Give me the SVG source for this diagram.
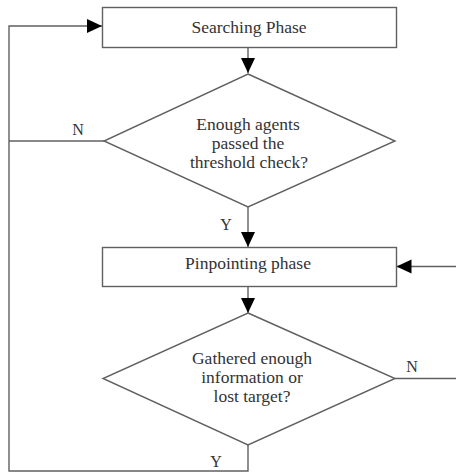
<svg xmlns="http://www.w3.org/2000/svg" width="456" height="472" viewBox="0 0 456 472">
<style>
.shape{fill:#fff;stroke:#606060;stroke-width:1.4}
.conn{fill:none;stroke:#606060;stroke-width:1.4}
text{font-family:'Liberation Serif','Times New Roman','DejaVu Serif',serif;fill:#333;text-anchor:middle}
.t{font-size:17.5px}
.lbl{font-size:16px}
</style>
<defs>
<marker id="arr" markerUnits="userSpaceOnUse" markerWidth="16" markerHeight="16" refX="15" refY="7" orient="auto">
<path d="M0,0 L15,7 L0,14 Z" fill="#000"/>
</marker>
</defs>
<rect width="456" height="472" fill="#fff"/>
<g id="connectors">
<path class="conn" d="M248,47.5 V73" marker-end="url(#arr)"/>
<path class="conn" d="M248,207 V247" marker-end="url(#arr)"/>
<path class="conn" d="M248,286.5 V313" marker-end="url(#arr)"/>
<path class="conn" d="M104,141 H9"/>
<path class="conn" d="M248,445 V471 H9 V26 H102" marker-end="url(#arr)"/>
<path class="conn" d="M395,378.5 H458 V266.5 H396.5" marker-end="url(#arr)"/>
</g>
<g id="searching">
<rect class="shape" x="102.5" y="7.5" width="294" height="40"/>
<text class="t" x="249" y="33" font-family="Liberation Serif, serif">Searching Phase</text>
</g>
<g id="decision1">
<polygon class="shape" points="248,74 395,141 248,207 104,141"/>
<text class="t" x="248" y="130">Enough agents</text>
<text class="t" x="248" y="149">passed the</text>
<text class="t" x="249" y="168">threshold check?</text>
</g>
<g id="pinpointing">
<rect class="shape" x="102.5" y="247.5" width="294" height="39"/>
<text class="t" x="248" y="269">Pinpointing phase</text>
</g>
<g id="decision2">
<polygon class="shape" points="248,313 395,378.5 248,445 103,378.5"/>
<text class="t" x="252" y="364">Gathered enough</text>
<text class="t" x="252" y="383">information or</text>
<text class="t" x="252" y="402">lost target?</text>
</g>
<g id="labels">
<text class="lbl" x="78" y="135">N</text>
<text class="lbl" x="226" y="230">Y</text>
<text class="lbl" x="412" y="372">N</text>
<text class="lbl" x="216" y="467">Y</text>
</g>
</svg>
